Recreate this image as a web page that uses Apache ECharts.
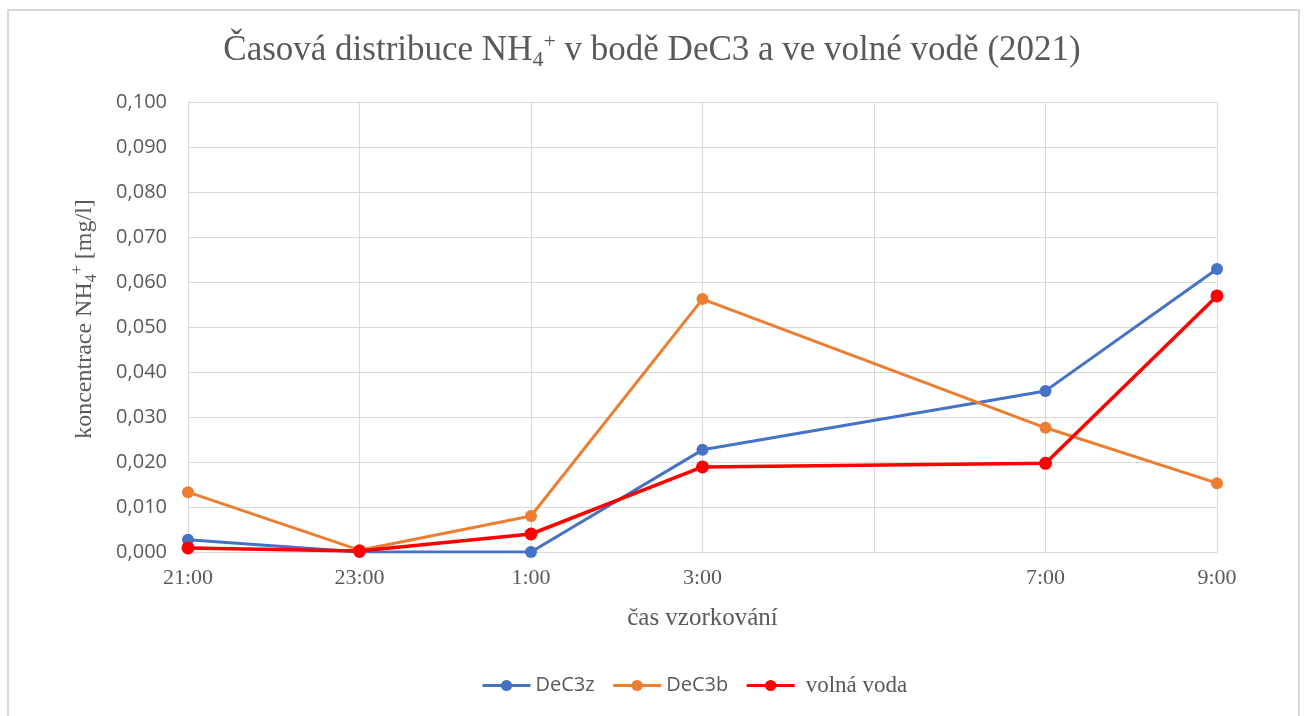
<!DOCTYPE html>
<html>
<head>
<meta charset="utf-8">
<script src="https://cdn.jsdelivr.net/npm/echarts@6/dist/echarts.min.js"></script>
<style>
html,body{margin:0;padding:0;background:#fff;overflow:hidden;}
#frame{position:absolute;left:7px;top:9px;width:1293px;height:720px;border:2px solid #d9d9d9;box-sizing:border-box;}
#chart{position:absolute;left:0;top:0;width:1304px;height:716px;}
</style>
</head>
<body>
<div id="frame"></div>
<div id="chart"></div>
<script>
// sampling times (night 2021)
const sampleTimes = ['21:00', '23:00', '1:00', '3:00', '7:00', '9:00'];
// axis tick labels every 2 hours from 21:00 (5:00 unlabeled in original)
const xTickLabels = ['21:00', '23:00', '1:00', '3:00', '', '7:00', '9:00'];
// NH4+ concentration [mg/l]
const dec3z = [0.0027, 0.0000, 0.0000, 0.0227, 0.0358, 0.0629];
const dec3b = [0.0133, 0.0004, 0.0080, 0.0562, 0.0276, 0.0153];
const volnaVoda = [0.0009, 0.0002, 0.0040, 0.0189, 0.0197, 0.0569];

function hoursFromStart(t) {
  const h = parseInt(t.split(':')[0], 10);
  return (h - 21 + 24) % 24;
}
function pairs(vals) {
  return sampleTimes.map((t, i) => [hoursFromStart(t), vals[i]]);
}

const serif = '"Liberation Serif", "DejaVu Serif", serif';
const sans = '"Open Sans", "Liberation Sans", sans-serif';
const grey = '#595959';

const chart = echarts.init(document.getElementById('chart'));
chart.setOption({
  animation: false,
  title: {
    text: '{a|Časová distribuce NH}{sub|4}{sup|+}{a| v bodě DeC3 a ve volné vodě (2021)}',
    left: 'center',
    top: 26,
    textStyle: {
      fontWeight: 'normal',
      rich: {
        a: { fontFamily: serif, fontSize: 35, fontWeight: 'normal', color: grey, lineHeight: 40, verticalAlign: 'middle' },
        sub: { fontFamily: serif, fontSize: 22, fontWeight: 'normal', color: grey, lineHeight: 40, verticalAlign: 'bottom', padding: [14, 0, 0, 0] },
        sup: { fontFamily: serif, fontSize: 22, fontWeight: 'normal', color: grey, lineHeight: 40, verticalAlign: 'top', padding: [0, 0, 11, 0] }
      }
    }
  },
  legend: {
    bottom: 14,
    left: 476,
    itemWidth: 48,
    itemHeight: 14,
    itemGap: 17,
    lineStyle: { width: 3 },
    data: [
      { name: 'DeC3z', textStyle: { fontFamily: sans, fontSize: 20, color: grey } },
      { name: 'DeC3b', textStyle: { fontFamily: sans, fontSize: 20, color: grey } },
      { name: 'volná voda', textStyle: { fontFamily: serif, fontSize: 23, color: grey, padding: [0, 0, 0, 6] } }
    ]
  },
  grid: { left: 188, right: 87, top: 102, bottom: 164, containLabel: false },
  xAxis: {
    type: 'value',
    min: 0,
    max: 12,
    interval: 2,
    name: 'čas vzorkování',
    nameLocation: 'middle',
    nameGap: 54,
    nameTextStyle: { fontFamily: serif, fontSize: 25, color: grey },
    axisLine: { show: true, lineStyle: { color: '#d9d9d9', width: 1 } },
    axisTick: { show: false },
    axisLabel: {
      margin: 15,
      fontFamily: serif, fontSize: 22, color: grey,
      formatter: v => xTickLabels[Math.round(v / 2)] || ''
    },
    splitLine: { show: true, lineStyle: { color: '#d9d9d9', width: 1 } }
  },
  yAxis: {
    type: 'value',
    min: 0,
    max: 0.1,
    interval: 0.01,
    name: '{a|koncentrace NH}{sub|4}{sup|+}{a| [mg/l]}',
    nameLocation: 'middle',
    nameGap: 88,
    nameRotate: 90,
    nameTextStyle: {
      padding: [0, 0, 0, 16],
      rich: {
        a: { fontFamily: serif, fontSize: 24, color: grey, lineHeight: 30, verticalAlign: 'middle' },
        sub: { fontFamily: serif, fontSize: 16, color: grey, lineHeight: 30, verticalAlign: 'bottom', padding: [9, 0, 0, 0] },
        sup: { fontFamily: serif, fontSize: 16, color: grey, lineHeight: 30, verticalAlign: 'top', padding: [0, 0, 7, 0] }
      }
    },
    axisLine: { show: true, lineStyle: { color: '#d9d9d9', width: 1 } },
    axisTick: { show: false },
    axisLabel: {
      margin: 21,
      fontFamily: sans, fontSize: 20, color: grey,
      formatter: v => v.toFixed(3).replace('.', ',')
    },
    splitLine: { show: true, lineStyle: { color: '#d9d9d9', width: 1 } }
  },
  series: [
    {
      name: 'DeC3z', type: 'line', data: pairs(dec3z),
      symbol: 'circle', symbolSize: 12,
      itemStyle: { color: '#4472c4' },
      lineStyle: { color: '#4472c4', width: 3 }
    },
    {
      name: 'DeC3b', type: 'line', data: pairs(dec3b),
      symbol: 'circle', symbolSize: 12,
      itemStyle: { color: '#ed7d31' },
      lineStyle: { color: '#ed7d31', width: 3 }
    },
    {
      name: 'volná voda', type: 'line', data: pairs(volnaVoda),
      symbol: 'circle', symbolSize: 13,
      itemStyle: { color: '#ff0000' },
      lineStyle: { color: '#ff0000', width: 3.5 }
    }
  ]
});
</script>
</body>
</html>
